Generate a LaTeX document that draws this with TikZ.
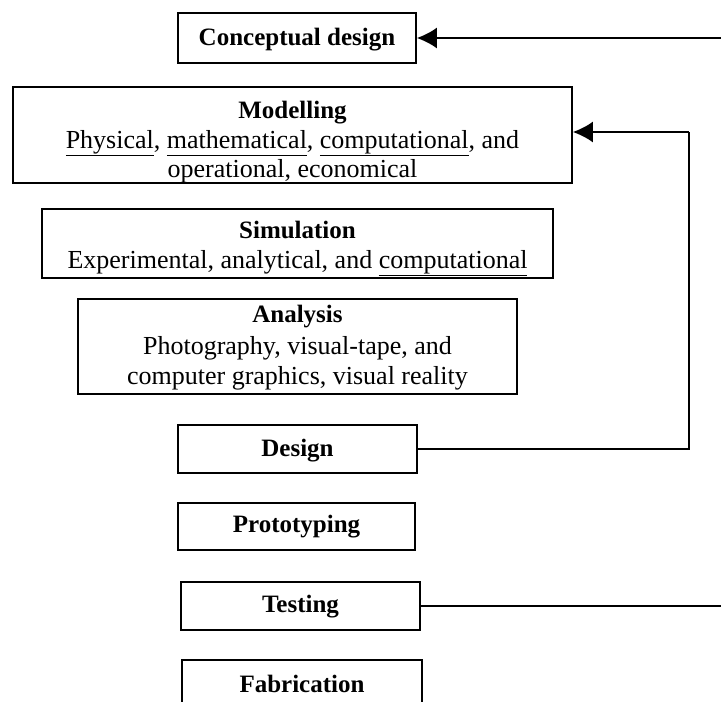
\documentclass[tikz,border=0pt]{standalone}
\usepackage{fontspec}
\setmainfont{Liberation Serif}
\usetikzlibrary{arrows.meta}
\newcommand{\uword}[1]{\underline{#1\vphantom{y}}}
\newcommand{\stagetitle}[1]{{\fontsize{25}{30}\selectfont\textbf{#1}}}

\begin{document}
\begin{tikzpicture}[x=1pt,y=-1pt]
\tikzstyle{stage}=[rectangle, draw=black, line width=1.8pt, inner sep=0pt]
\tikzstyle{txt}=[align=center, inner sep=0pt, font=\fontsize{26}{30}\selectfont]
\tikzstyle{connect}=[-{Latex[length=20pt,width=21pt]}, line width=1.8pt]
\tikzstyle{feed}=[line width=1.8pt]
  \useasboundingbox (0,0) rectangle (721,702);
  \clip (0,0) rectangle (721,702);

  \node[stage, minimum width=238pt, minimum height=50pt] (concept) at (297,38)
    [label={[txt, yshift=-2pt]center:\stagetitle{Conceptual design}}] {};
  \node[stage, minimum width=559pt, minimum height=96pt] (model) at (292.5,135)
    [label={[txt, yshift=-7pt]center:{\stagetitle{Modelling}\\
     \uword{Physical}, \uword{mathematical}, \uword{computational}, and\\[-1pt]
     operational, economical}}] {};
  \node[stage, minimum width=511pt, minimum height=69pt] (sim) at (297.5,243.5)
    [label={[txt, yshift=-5pt]center:{\stagetitle{Simulation}\\
     Experimental, analytical, and \uword{computational}}}] {};
  \node[stage, minimum width=439pt, minimum height=95pt] (anal) at (297.5,346.5)
    [label={[txt, yshift=-1pt]center:{\stagetitle{Analysis}\\[2pt]
     Photography, visual-tape, and\\
     computer graphics, visual reality}}] {};
  \node[stage, minimum width=239pt, minimum height=48pt] (design) at (297.5,449)
    [label={[txt, yshift=-2pt]center:\stagetitle{Design}}] {};
  \node[stage, minimum width=237pt, minimum height=47pt] (proto) at (296.5,526.5)
    [label={[txt]center:\stagetitle{Prototyping}}] {};
  \node[stage, minimum width=239pt, minimum height=48pt] (test) at (300.5,606)
    [label={[txt, yshift=-1pt]center:\stagetitle{Testing}}] {};
  \node[stage, minimum width=240pt, minimum height=50pt] (fab) at (302,685)
    [label={[txt, yshift=1pt]center:\stagetitle{Fabrication}}] {};

  \coordinate (loopc) at (726,38);
  \coordinate (loopm) at (689,132);

  \draw[feed] (test.east) -| (loopc);
  \draw[connect] (loopc) -- (concept.east);
  \draw[feed] (design.east) -| (loopm);
  \draw[connect] (loopm) -- (loopm -| model.east);
\end{tikzpicture}
\end{document}
